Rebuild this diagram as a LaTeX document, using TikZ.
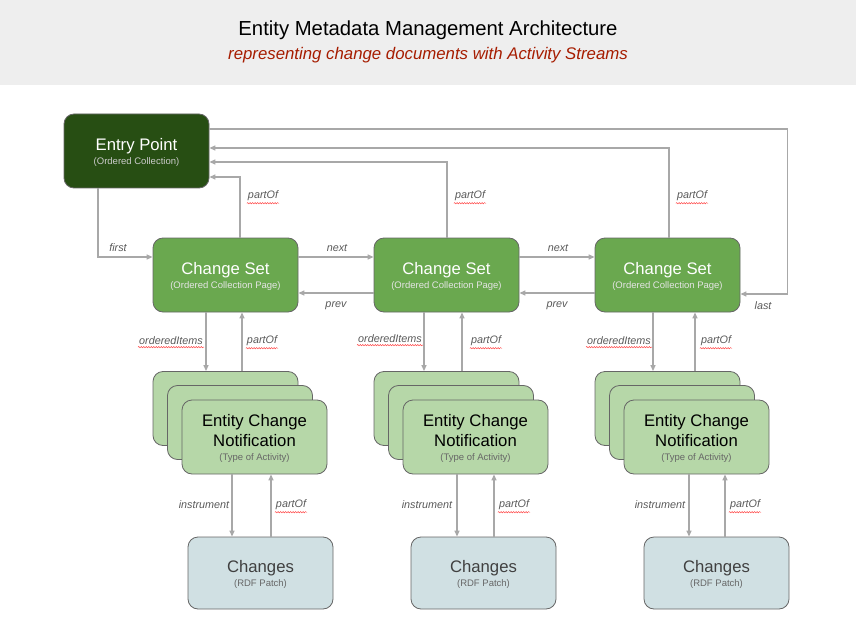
\documentclass[tikz,border=0pt]{standalone}
\usepackage{fontspec}
\setmainfont{Liberation Sans}
\usetikzlibrary{arrows.meta,positioning,decorations.pathmorphing}
\definecolor{epfill}{HTML}{274E13}
\definecolor{csfill}{HTML}{6AA84F}
\definecolor{ecnfill}{HTML}{B6D7A8}
\definecolor{chfill}{HTML}{D0E0E3}
\definecolor{headbg}{HTML}{EEEEEE}
\definecolor{subred}{HTML}{A61C00}
\definecolor{conngray}{HTML}{A8A8A8}
\definecolor{labgray}{HTML}{595959}
\newcommand{\bigtxt}{\fontsize{16.7}{20}\selectfont}
\newcommand{\smalltxt}{\fontsize{9.5}{11}\selectfont}
\tikzset{box/.style={draw=black!60,line width=0.8pt,rounded corners=10pt,minimum width=145pt,minimum height=74pt,align=center,inner sep=2pt,font=\bigtxt,text depth=0pt},
epbox/.style={box,fill=epfill,text=white},csbox/.style={box,fill=csfill,text=white},
ecnbox/.style={box,fill=ecnfill,text=black},chbox/.style={box,fill=chfill,text=black!75,minimum height=72pt},
conn/.style={-{Triangle[length=6pt,width=5pt]},conngray,line width=1.3pt},
lab/.style={font=\fontsize{10.8}{12}\selectfont\itshape,text=labgray,inner sep=1pt},
squig/.style={red!80,line width=0.4pt,decorate,decoration={snake,amplitude=0.7pt,segment length=2.5pt}}}
\begin{document}
\begin{tikzpicture}[x=1pt,y=-1pt]
\useasboundingbox (0,0) rectangle (856,639);
\fill[headbg] (0,0) rectangle (856,85);
\node[font=\fontsize{20.3}{24}\selectfont] (title) at (428,30) {Entity Metadata Management Architecture};
\node[font=\fontsize{16.8}{19}\selectfont\itshape,text=subred] (subtitle) at (428,55) {representing change documents with Activity Streams};
% collection and pages
\node[epbox] (ep) at (136.5,151) {Entry Point\\[-6pt]{\smalltxt\color{black!20}(Ordered Collection)}};
\node[csbox] (cs1) at (225.5,275) {Change Set\\[-6pt]{\smalltxt\color{white!90!black}(Ordered Collection Page)}};
\node[csbox] (cs2) at (446.5,275) {Change Set\\[-6pt]{\smalltxt\color{white!90!black}(Ordered Collection Page)}};
\node[csbox] (cs3) at (667.5,275) {Change Set\\[-6pt]{\smalltxt\color{white!90!black}(Ordered Collection Page)}};
% notification stacks
\node[ecnbox] (bk1) at (225.5,408.5) {};
\node[ecnbox] (md1) at (240,422.5) {};
\node[ecnbox] (fr1) at (254.5,437) {Entity Change\\Notification\\[-6pt]{\smalltxt\color{black!60}(Type of Activity)}};
\node[ecnbox] (bk2) at (446.5,408.5) {};
\node[ecnbox] (md2) at (461,422.5) {};
\node[ecnbox] (fr2) at (475.5,437) {Entity Change\\Notification\\[-6pt]{\smalltxt\color{black!60}(Type of Activity)}};
\node[ecnbox] (bk3) at (667.5,408.5) {};
\node[ecnbox] (md3) at (682,422.5) {};
\node[ecnbox] (fr3) at (696.5,437) {Entity Change\\Notification\\[-6pt]{\smalltxt\color{black!60}(Type of Activity)}};
% patches
\node[chbox] (ch1) at (260.5,573) {Changes\\[-6pt]{\smalltxt\color{black!60}(RDF Patch)}};
\node[chbox] (ch2) at (483.5,573) {Changes\\[-6pt]{\smalltxt\color{black!60}(RDF Patch)}};
\node[chbox] (ch3) at (716.5,573) {Changes\\[-6pt]{\smalltxt\color{black!60}(RDF Patch)}};
% links between collection and pages
\draw[conn] ([xshift=-38.5pt]ep.south) |- ([yshift=18pt]cs1.west);
\draw[conn] ([xshift=14.5pt]cs1.north) |- ([yshift=-26pt]ep.east);
\draw[conn] ([xshift=0.5pt]cs2.north) |- ([yshift=-11pt]ep.east);
\draw[conn] ([xshift=1.5pt]cs3.north) |- ([yshift=3pt]ep.east);
\draw[conn] ([yshift=22pt]ep.east) -| ([xshift=47pt,yshift=-19pt]cs3.east) -- ([yshift=-19pt]cs3.east);
\draw[conn] ([yshift=18pt]cs1.east) -- ([yshift=18pt]cs2.west);
\draw[conn] ([yshift=18pt]cs2.east) -- ([yshift=18pt]cs3.west);
\draw[conn] ([yshift=-18pt]cs2.west) -- ([yshift=-18pt]cs1.east);
\draw[conn] ([yshift=-18pt]cs3.west) -- ([yshift=-18pt]cs2.east);
% pages to notifications
\draw[conn] ([xshift=-19.5pt]cs1.south) -- ([xshift=-19.5pt]bk1.north);
\draw[conn] ([xshift=16.5pt]bk1.north) -- ([xshift=16.5pt]cs1.south);
\draw[conn] ([xshift=-22.5pt]cs2.south) -- ([xshift=-22.5pt]bk2.north);
\draw[conn] ([xshift=15.5pt]bk2.north) -- ([xshift=15.5pt]cs2.south);
\draw[conn] ([xshift=-14.5pt]cs3.south) -- ([xshift=-14.5pt]bk3.north);
\draw[conn] ([xshift=27.5pt]bk3.north) -- ([xshift=27.5pt]cs3.south);
% notifications to patches
\draw[conn] ([xshift=-22.5pt]fr1.south) -- ([xshift=-28.5pt]ch1.north);
\draw[conn] ([xshift=10.5pt]ch1.north) -- ([xshift=16.5pt]fr1.south);
\draw[conn] ([xshift=-18.5pt]fr2.south) -- ([xshift=-26.5pt]ch2.north);
\draw[conn] ([xshift=10.5pt]ch2.north) -- ([xshift=18.5pt]fr2.south);
\draw[conn] ([xshift=-7.5pt]fr3.south) -- ([xshift=-27.5pt]ch3.north);
\draw[conn] ([xshift=8.5pt]ch3.north) -- ([xshift=28.5pt]fr3.south);
% labels
\node[lab] (lfirst) at (118,248) {first};
\node[lab] (lnext1) at (337,248) {next};
\node[lab] (lnext2) at (558,248) {next};
\node[lab] (lprev1) at (336,306) {prev};
\node[lab] (lprev2) at (557,306) {prev};
\node[lab] (llast) at (763,306) {last};
\node[lab] (lpo1) at (263,196) {partOf};
\node[lab] (lpo2) at (470,196) {partOf};
\node[lab] (lpo3) at (692,196) {partOf};
\node[lab] (loi1) at (171,341) {orderedItems};
\node[lab] (loi2) at (390,339) {orderedItems};
\node[lab] (loi3) at (619,341) {orderedItems};
\node[lab] (lpi1) at (262,341) {partOf};
\node[lab] (lpi2) at (486,341) {partOf};
\node[lab] (lpi3) at (716,341) {partOf};
\node[lab] (lin1) at (204,505) {instrument};
\node[lab] (lin2) at (427,505) {instrument};
\node[lab] (lin3) at (660,505) {instrument};
\node[lab] (lpc1) at (291,505) {partOf};
\node[lab] (lpc2) at (514,505) {partOf};
\node[lab] (lpc3) at (745,505) {partOf};
% spell-check underlines
\foreach \l in {lpo1,lpo2,lpo3,loi1,loi2,loi3,lpi1,lpi2,lpi3,lpc1,lpc2,lpc3}
  \draw[squig] ([yshift=-1pt]\l.south west) -- ([yshift=-1pt]\l.south east);
\end{tikzpicture}
\end{document}
